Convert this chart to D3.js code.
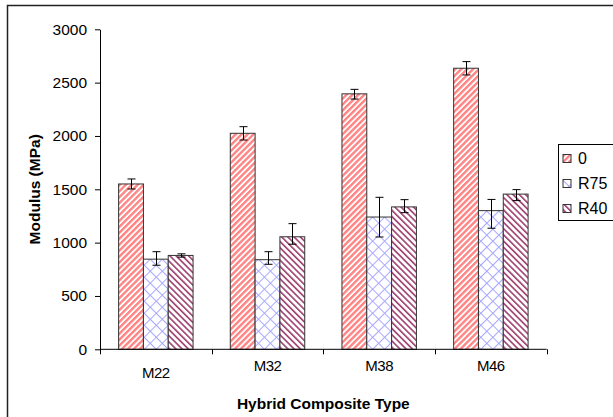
<!DOCTYPE html>
<html>
<head>
<meta charset="utf-8">
<script src="https://cdn.jsdelivr.net/npm/d3@7"></script>
<style>
  html, body { margin: 0; padding: 0; background: #fff; }
  svg { display: block; font-family: "Liberation Sans", Arial, sans-serif; }
</style>
</head>
<body>
<svg id="chart" width="613" height="417"></svg>
<script>
// ---- data ----
var categories = ['M22', 'M32', 'M38', 'M46'];
var seriesNames = ['0', 'R75', 'R40'];
var values0   = [1550, 2025, 2395, 2635];
var valuesR75 = [845, 840, 1240, 1300];
var valuesR40 = [880, 1055, 1335, 1455];
var errUp0    = [47, 62, 42, 62];
var errDown0  = [47, 63, 49, 63];
var errUpR75  = [70, 75, 185, 105];
var errDownR75 = [57, 43, 187, 165];
var errUpR40  = [15, 123, 68, 42];
var errDownR40 = [16, 70, 54, 61];
var yTicks = [0, 500, 1000, 1500, 2000, 2500, 3000];

var series = [
  { name: seriesNames[0], vals: values0, up: errUp0, down: errDown0, fill: 'url(#p0)' },
  { name: seriesNames[1], vals: valuesR75, up: errUpR75, down: errDownR75, fill: 'url(#pR75)' },
  { name: seriesNames[2], vals: valuesR40, up: errUpR40, down: errDownR40, fill: 'url(#pR40)' }
];

var FONT = '"Liberation Sans", Arial, sans-serif';
var svg = d3.select('#chart');
var defs = svg.append('defs');

// hatch patterns like the Excel fills
function stripes(id, color, w, lw, angle) {
  var p = defs.append('pattern').attr('id', id).attr('patternUnits', 'userSpaceOnUse')
    .attr('width', w).attr('height', w).attr('patternTransform', 'rotate(' + angle + ')');
  p.append('rect').attr('width', w).attr('height', w).attr('fill', '#fff');
  p.append('rect').attr('width', lw).attr('height', w).attr('fill', color);
}
stripes('p0', '#ff8585', 4.2, 2.4, 45);
stripes('pR40', '#9c3d6e', 4.4, 1.6, -45);
(function () {
  var p = defs.append('pattern').attr('id', 'pR75').attr('patternUnits', 'userSpaceOnUse')
    .attr('width', 8.5).attr('height', 8.5).attr('patternTransform', 'rotate(45)');
  p.append('rect').attr('width', 8.5).attr('height', 8.5).attr('fill', '#fff');
  p.append('rect').attr('width', 1).attr('height', 8.5).attr('fill', '#a8a8ff');
  p.append('rect').attr('width', 8.5).attr('height', 1).attr('fill', '#a8a8ff');
})();

// outer chart-area frame (runs off right and bottom edges)
svg.append('rect').attr('x', 7.5).attr('y', 5.5).attr('width', 700).attr('height', 500)
  .attr('fill', 'none').attr('stroke', '#222').attr('stroke-width', 1.5);

var L = 100, R = 546.7, T = 29.3, B = 349.3;
var x = d3.scaleBand().domain(categories).range([L, R]).paddingInner(0).paddingOuter(0);
var y = d3.scaleLinear().domain([0, 3000]).range([B, T]);
var barW = x.bandwidth() / 4.5;   // gap width 150%

// bars
var g = svg.append('g');
series.forEach(function (s, si) {
  var gs = g.append('g');
  categories.forEach(function (c, ci) {
    var bx = x(c) + barW * 0.75 + si * barW;
    gs.append('rect').attr('x', bx).attr('y', y(s.vals[ci])).attr('width', barW)
      .attr('height', y(0) - y(s.vals[ci])).attr('fill', s.fill)
      .attr('stroke', '#333').attr('stroke-width', 1);
  });
});

// error bars
series.forEach(function (s, si) {
  categories.forEach(function (c, ci) {
    var cx = Math.round(x(c) + barW * 0.75 + si * barW + barW / 2) + 0.5;
    var y1 = y(s.vals[ci] + s.up[ci]), y2 = y(s.vals[ci] - s.down[ci]);
    var eg = g.append('g').attr('stroke', '#000').attr('stroke-width', 1);
    eg.append('line').attr('x1', cx).attr('x2', cx).attr('y1', y1).attr('y2', y2);
    eg.append('line').attr('x1', cx - 4).attr('x2', cx + 4).attr('y1', y1).attr('y2', y1);
    eg.append('line').attr('x1', cx - 4).attr('x2', cx + 4).attr('y1', y2).attr('y2', y2);
  });
});

// y axis
var yAxis = svg.append('g').attr('transform', 'translate(' + L + ',0)')
  .call(d3.axisLeft(y).tickValues(yTicks).tickFormat(d3.format('d')).tickSize(5).tickSizeOuter(0).tickPadding(8));
yAxis.select('.domain').attr('stroke', '#000');
yAxis.selectAll('line').attr('stroke', '#000');
yAxis.selectAll('text').attr('font-size', 15.5).attr('fill', '#000').attr('font-family', FONT);

// x axis: ticks at category boundaries
var xAxisG = svg.append('g').attr('transform', 'translate(0,' + B + ')');
xAxisG.append('line').attr('x1', L).attr('x2', R).attr('y1', 0).attr('y2', 0).attr('stroke', '#000');
var bounds = categories.map(function (c) { return x(c); }).concat([R]);
xAxisG.selectAll('line.tk').data(bounds).enter().append('line').attr('class', 'tk')
  .attr('x1', function (d) { return Math.round(d) + 0.5; }).attr('x2', function (d) { return Math.round(d) + 0.5; })
  .attr('y1', 0).attr('y2', 5).attr('stroke', '#000');
xAxisG.selectAll('text').data(categories).enter().append('text')
  .attr('x', function (d) { return x(d) + x.bandwidth() / 2; })
  .attr('y', function (d, i) { return i === 0 ? 29 : 21.5; })
  .attr('text-anchor', 'middle').attr('font-size', 15).attr('letter-spacing', -0.5)
  .attr('fill', '#000').text(function (d) { return d; });

// axis titles
svg.append('text').attr('transform', 'translate(40,' + (T + B) / 2 + ') rotate(-90)')
  .attr('text-anchor', 'middle').attr('font-size', 15.5).attr('font-weight', 'bold').text('Modulus (MPa)');
svg.append('text').attr('x', (L + R) / 2).attr('y', 409)
  .attr('text-anchor', 'middle').attr('font-size', 15.5).attr('font-weight', 'bold').text('Hybrid Composite Type');

// legend
var lg = svg.append('g').attr('transform', 'translate(558.5,144.5)');
lg.append('rect').attr('width', 56).attr('height', 76).attr('fill', '#fff').attr('stroke', '#000');
series.forEach(function (s, i) {
  var row = lg.append('g').attr('transform', 'translate(4.5,' + (10 + i * 25) + ')');
  row.append('rect').attr('width', 8).attr('height', 8).attr('fill', s.fill).attr('stroke', '#333');
  row.append('text').attr('x', 15).attr('y', 9.5).attr('font-size', 16).text(s.name);
});
</script>
</body>
</html>
